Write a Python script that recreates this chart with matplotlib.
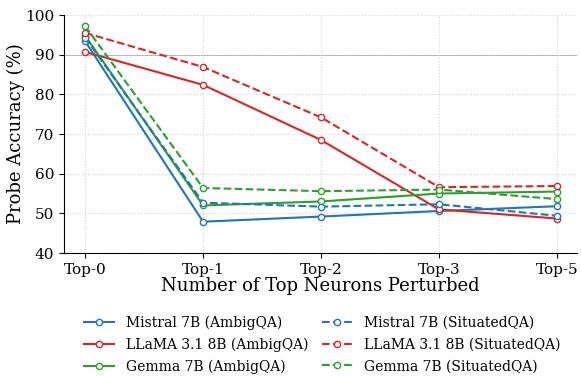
import matplotlib
matplotlib.use("Agg")
import matplotlib.pyplot as plt

plt.rcParams['font.family'] = 'DejaVu Serif'

steps = ["Top-0", "Top-1", "Top-2", "Top-3", "Top-5"]

mistral_ambig = [93.4, 47.9, 49.2, 50.6, 51.8]
llama_ambig = [90.7, 82.4, 68.5, 51.0, 48.7]
gemma_ambig = [94.8, 52.0, 53.0, 55.0, 55.5]
mistral_sit = [94.3, 52.7, 51.7, 52.3, 49.4]
llama_sit = [95.5, 86.9, 74.2, 56.6, 56.9]
gemma_sit = [97.2, 56.4, 55.6, 56.0, 53.6]

blue, red, green = "#1f77b4", "#d62728", "#2ca02c"
series = [
    ("Mistral 7B (AmbigQA)", mistral_ambig, blue, "-"),
    ("LLaMA 3.1 8B (AmbigQA)", llama_ambig, red, "-"),
    ("Gemma 7B (AmbigQA)", gemma_ambig, green, "-"),
    ("Mistral 7B (SituatedQA)", mistral_sit, blue, "--"),
    ("LLaMA 3.1 8B (SituatedQA)", llama_sit, red, "--"),
    ("Gemma 7B (SituatedQA)", gemma_sit, green, "--"),
]

fig = plt.figure(figsize=(5.81, 3.76), dpi=100)
ax = fig.add_axes([0.110, 0.327, 0.883, 0.633])

x = list(range(len(steps)))
for name, vals, c, ls in series:
    ax.plot(x, vals, ls, color=c, lw=1.5, marker="o", ms=4.5,
            markerfacecolor="white", markeredgecolor=c, markeredgewidth=1, label=name)

ax.axhline(90, color="gray", lw=0.6, alpha=0.8, zorder=0)
ax.grid(True, ls=":", color="lightgray", lw=0.8)
ax.set_axisbelow(True)
ax.set_xticks(x)
ax.set_xticklabels(steps, fontsize=11)
ax.set_xlim(-0.18, 4.17)
ax.set_ylim(40, 100)
ax.tick_params(axis="y", labelsize=11)
ax.set_xlabel("Number of Top Neurons Perturbed", fontsize=13, labelpad=0)
ax.set_ylabel("Probe Accuracy (%)", fontsize=13, labelpad=0)
for s in ["top", "right"]:
    ax.spines[s].set_visible(False)

ax.legend(loc="upper center", bbox_to_anchor=(0.503, -0.21), ncol=2, frameon=False,
          fontsize=10, columnspacing=1.0, handlelength=2.2, labelspacing=0.55)

fig.savefig("out.png", dpi=100)
